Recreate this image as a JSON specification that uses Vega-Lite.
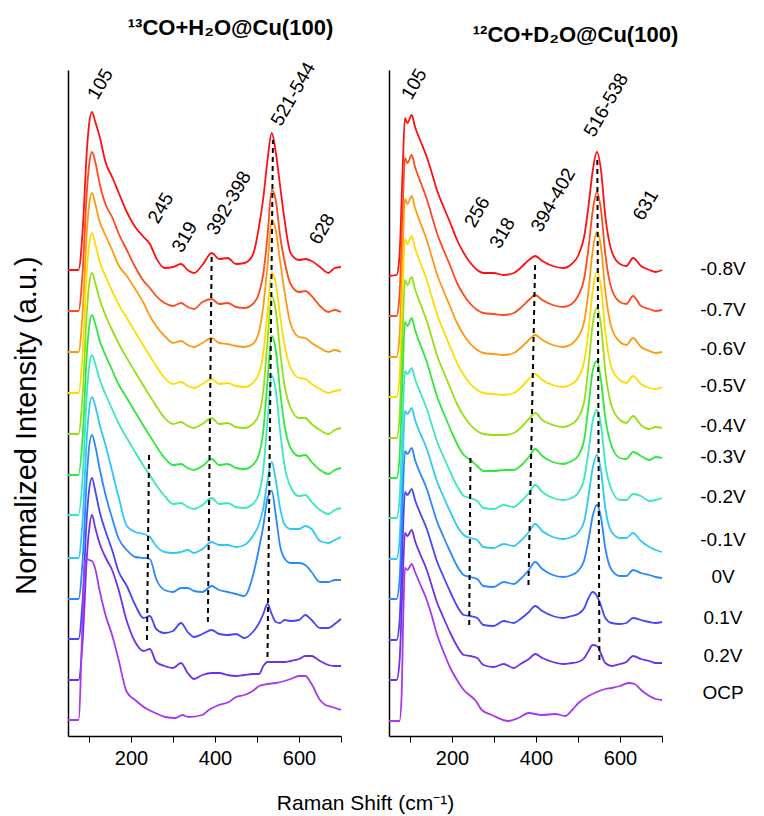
{
"$schema": "https://vega.github.io/schema/vega-lite/v6.json",
"padding": {"left": 12, "top": 17, "right": 5, "bottom": 5},
"bounds": "flush",
"spacing": 48,
"config": {
  "font": "Liberation Sans",
  "view": {"stroke": null},
  "axis": {"grid": false, "domainColor": "#000", "domainWidth": 1.5, "tickColor": "#000", "labelColor": "#000", "titleColor": "#000", "labelFontSize": 20, "titleFontWeight": "normal"},
  "line": {"strokeWidth": 1.8, "interpolate": "monotone"}
},
"datasets": {
"L": [
{"v":"-0.8V","x":50,"y":466},{"v":"-0.8V","x":75,"y":466},{"v":"-0.8V","x":85,"y":506},{"v":"-0.8V","x":95,"y":586},{"v":"-0.8V","x":100,"y":611},{"v":"-0.8V","x":107,"y":624},{"v":"-0.8V","x":115,"y":614},{"v":"-0.8V","x":125,"y":600},{"v":"-0.8V","x":140,"y":573},{"v":"-0.8V","x":155,"y":559},{"v":"-0.8V","x":170,"y":544},{"v":"-0.8V","x":190,"y":524},{"v":"-0.8V","x":210,"y":509},{"v":"-0.8V","x":230,"y":499},{"v":"-0.8V","x":245,"y":492},{"v":"-0.8V","x":260,"y":478},{"v":"-0.8V","x":280,"y":468},{"v":"-0.8V","x":300,"y":469},{"v":"-0.8V","x":319,"y":472},{"v":"-0.8V","x":335,"y":466},{"v":"-0.8V","x":350,"y":463},{"v":"-0.8V","x":370,"y":471},{"v":"-0.8V","x":392,"y":483},{"v":"-0.8V","x":410,"y":477},{"v":"-0.8V","x":430,"y":478},{"v":"-0.8V","x":450,"y":472},{"v":"-0.8V","x":470,"y":473},{"v":"-0.8V","x":490,"y":481},{"v":"-0.8V","x":505,"y":510},{"v":"-0.8V","x":515,"y":538},{"v":"-0.8V","x":525,"y":576},{"v":"-0.8V","x":535,"y":603},{"v":"-0.8V","x":545,"y":583},{"v":"-0.8V","x":555,"y":550},{"v":"-0.8V","x":565,"y":518},{"v":"-0.8V","x":580,"y":483},{"v":"-0.8V","x":600,"y":476},{"v":"-0.8V","x":615,"y":477},{"v":"-0.8V","x":630,"y":475},{"v":"-0.8V","x":650,"y":469},{"v":"-0.8V","x":670,"y":463},{"v":"-0.8V","x":685,"y":468},{"v":"-0.8V","x":700,"y":469},
{"v":"-0.7V","x":50,"y":425},{"v":"-0.7V","x":75,"y":425},{"v":"-0.7V","x":85,"y":465},{"v":"-0.7V","x":95,"y":545},{"v":"-0.7V","x":100,"y":570},{"v":"-0.7V","x":107,"y":584},{"v":"-0.7V","x":115,"y":574},{"v":"-0.7V","x":125,"y":553},{"v":"-0.7V","x":140,"y":531},{"v":"-0.7V","x":155,"y":519},{"v":"-0.7V","x":170,"y":503},{"v":"-0.7V","x":190,"y":486},{"v":"-0.7V","x":210,"y":469},{"v":"-0.7V","x":230,"y":455},{"v":"-0.7V","x":245,"y":448},{"v":"-0.7V","x":260,"y":440},{"v":"-0.7V","x":280,"y":433},{"v":"-0.7V","x":300,"y":430},{"v":"-0.7V","x":319,"y":433},{"v":"-0.7V","x":335,"y":429},{"v":"-0.7V","x":350,"y":427},{"v":"-0.7V","x":370,"y":434},{"v":"-0.7V","x":392,"y":437},{"v":"-0.7V","x":410,"y":432},{"v":"-0.7V","x":430,"y":433},{"v":"-0.7V","x":450,"y":429},{"v":"-0.7V","x":470,"y":428},{"v":"-0.7V","x":490,"y":432},{"v":"-0.7V","x":505,"y":443},{"v":"-0.7V","x":515,"y":462},{"v":"-0.7V","x":525,"y":500},{"v":"-0.7V","x":535,"y":546},{"v":"-0.7V","x":545,"y":535},{"v":"-0.7V","x":555,"y":500},{"v":"-0.7V","x":565,"y":476},{"v":"-0.7V","x":580,"y":452},{"v":"-0.7V","x":600,"y":444},{"v":"-0.7V","x":615,"y":445},{"v":"-0.7V","x":630,"y":440},{"v":"-0.7V","x":650,"y":430},{"v":"-0.7V","x":670,"y":424},{"v":"-0.7V","x":685,"y":426},{"v":"-0.7V","x":700,"y":424},
{"v":"-0.6V","x":50,"y":384},{"v":"-0.6V","x":75,"y":384},{"v":"-0.6V","x":85,"y":424},{"v":"-0.6V","x":95,"y":505},{"v":"-0.6V","x":100,"y":530},{"v":"-0.6V","x":107,"y":543},{"v":"-0.6V","x":115,"y":532},{"v":"-0.6V","x":125,"y":515},{"v":"-0.6V","x":140,"y":500},{"v":"-0.6V","x":155,"y":486},{"v":"-0.6V","x":170,"y":471},{"v":"-0.6V","x":190,"y":460},{"v":"-0.6V","x":210,"y":447},{"v":"-0.6V","x":230,"y":433},{"v":"-0.6V","x":245,"y":420},{"v":"-0.6V","x":260,"y":410},{"v":"-0.6V","x":280,"y":400},{"v":"-0.6V","x":300,"y":393},{"v":"-0.6V","x":319,"y":395},{"v":"-0.6V","x":335,"y":391},{"v":"-0.6V","x":350,"y":389},{"v":"-0.6V","x":370,"y":393},{"v":"-0.6V","x":392,"y":398},{"v":"-0.6V","x":410,"y":393},{"v":"-0.6V","x":430,"y":392},{"v":"-0.6V","x":450,"y":390},{"v":"-0.6V","x":470,"y":389},{"v":"-0.6V","x":490,"y":392},{"v":"-0.6V","x":505,"y":405},{"v":"-0.6V","x":515,"y":430},{"v":"-0.6V","x":525,"y":470},{"v":"-0.6V","x":535,"y":516},{"v":"-0.6V","x":545,"y":505},{"v":"-0.6V","x":555,"y":475},{"v":"-0.6V","x":565,"y":446},{"v":"-0.6V","x":580,"y":412},{"v":"-0.6V","x":600,"y":399},{"v":"-0.6V","x":615,"y":398},{"v":"-0.6V","x":630,"y":393},{"v":"-0.6V","x":650,"y":388},{"v":"-0.6V","x":670,"y":384},{"v":"-0.6V","x":685,"y":386},{"v":"-0.6V","x":700,"y":384},
{"v":"-0.5V","x":50,"y":343},{"v":"-0.5V","x":75,"y":343},{"v":"-0.5V","x":85,"y":383},{"v":"-0.5V","x":95,"y":465},{"v":"-0.5V","x":100,"y":490},{"v":"-0.5V","x":107,"y":503},{"v":"-0.5V","x":115,"y":492},{"v":"-0.5V","x":125,"y":475},{"v":"-0.5V","x":140,"y":459},{"v":"-0.5V","x":155,"y":445},{"v":"-0.5V","x":170,"y":432},{"v":"-0.5V","x":190,"y":418},{"v":"-0.5V","x":210,"y":404},{"v":"-0.5V","x":230,"y":390},{"v":"-0.5V","x":245,"y":380},{"v":"-0.5V","x":260,"y":370},{"v":"-0.5V","x":280,"y":358},{"v":"-0.5V","x":300,"y":352},{"v":"-0.5V","x":319,"y":354},{"v":"-0.5V","x":335,"y":350},{"v":"-0.5V","x":350,"y":348},{"v":"-0.5V","x":370,"y":352},{"v":"-0.5V","x":392,"y":357},{"v":"-0.5V","x":410,"y":352},{"v":"-0.5V","x":430,"y":353},{"v":"-0.5V","x":450,"y":350},{"v":"-0.5V","x":470,"y":349},{"v":"-0.5V","x":490,"y":353},{"v":"-0.5V","x":505,"y":363},{"v":"-0.5V","x":515,"y":383},{"v":"-0.5V","x":525,"y":423},{"v":"-0.5V","x":535,"y":464},{"v":"-0.5V","x":545,"y":452},{"v":"-0.5V","x":555,"y":420},{"v":"-0.5V","x":565,"y":392},{"v":"-0.5V","x":580,"y":368},{"v":"-0.5V","x":600,"y":358},{"v":"-0.5V","x":615,"y":357},{"v":"-0.5V","x":630,"y":352},{"v":"-0.5V","x":650,"y":347},{"v":"-0.5V","x":670,"y":343},{"v":"-0.5V","x":685,"y":345},{"v":"-0.5V","x":700,"y":346},
{"v":"-0.4V","x":50,"y":302},{"v":"-0.4V","x":75,"y":302},{"v":"-0.4V","x":85,"y":342},{"v":"-0.4V","x":95,"y":425},{"v":"-0.4V","x":100,"y":450},{"v":"-0.4V","x":107,"y":463},{"v":"-0.4V","x":115,"y":453},{"v":"-0.4V","x":125,"y":437},{"v":"-0.4V","x":140,"y":420},{"v":"-0.4V","x":155,"y":406},{"v":"-0.4V","x":170,"y":393},{"v":"-0.4V","x":190,"y":378},{"v":"-0.4V","x":210,"y":364},{"v":"-0.4V","x":230,"y":350},{"v":"-0.4V","x":245,"y":340},{"v":"-0.4V","x":260,"y":330},{"v":"-0.4V","x":280,"y":318},{"v":"-0.4V","x":300,"y":312},{"v":"-0.4V","x":319,"y":314},{"v":"-0.4V","x":335,"y":310},{"v":"-0.4V","x":350,"y":308},{"v":"-0.4V","x":370,"y":312},{"v":"-0.4V","x":392,"y":318},{"v":"-0.4V","x":410,"y":312},{"v":"-0.4V","x":430,"y":313},{"v":"-0.4V","x":450,"y":309},{"v":"-0.4V","x":470,"y":308},{"v":"-0.4V","x":490,"y":312},{"v":"-0.4V","x":505,"y":322},{"v":"-0.4V","x":515,"y":345},{"v":"-0.4V","x":525,"y":395},{"v":"-0.4V","x":535,"y":440},{"v":"-0.4V","x":545,"y":425},{"v":"-0.4V","x":555,"y":385},{"v":"-0.4V","x":565,"y":352},{"v":"-0.4V","x":580,"y":328},{"v":"-0.4V","x":600,"y":318},{"v":"-0.4V","x":615,"y":318},{"v":"-0.4V","x":630,"y":312},{"v":"-0.4V","x":650,"y":306},{"v":"-0.4V","x":670,"y":302},{"v":"-0.4V","x":685,"y":306},{"v":"-0.4V","x":700,"y":308},
{"v":"-0.3V","x":50,"y":261},{"v":"-0.3V","x":75,"y":261},{"v":"-0.3V","x":85,"y":300},{"v":"-0.3V","x":95,"y":383},{"v":"-0.3V","x":100,"y":408},{"v":"-0.3V","x":107,"y":421},{"v":"-0.3V","x":115,"y":412},{"v":"-0.3V","x":125,"y":396},{"v":"-0.3V","x":140,"y":380},{"v":"-0.3V","x":155,"y":366},{"v":"-0.3V","x":170,"y":352},{"v":"-0.3V","x":190,"y":338},{"v":"-0.3V","x":210,"y":324},{"v":"-0.3V","x":230,"y":310},{"v":"-0.3V","x":245,"y":300},{"v":"-0.3V","x":260,"y":290},{"v":"-0.3V","x":280,"y":278},{"v":"-0.3V","x":300,"y":271},{"v":"-0.3V","x":319,"y":272},{"v":"-0.3V","x":335,"y":268},{"v":"-0.3V","x":350,"y":266},{"v":"-0.3V","x":370,"y":270},{"v":"-0.3V","x":392,"y":277},{"v":"-0.3V","x":410,"y":271},{"v":"-0.3V","x":430,"y":272},{"v":"-0.3V","x":450,"y":268},{"v":"-0.3V","x":470,"y":267},{"v":"-0.3V","x":490,"y":271},{"v":"-0.3V","x":505,"y":282},{"v":"-0.3V","x":515,"y":305},{"v":"-0.3V","x":525,"y":355},{"v":"-0.3V","x":535,"y":400},{"v":"-0.3V","x":545,"y":385},{"v":"-0.3V","x":555,"y":345},{"v":"-0.3V","x":565,"y":312},{"v":"-0.3V","x":580,"y":288},{"v":"-0.3V","x":600,"y":280},{"v":"-0.3V","x":615,"y":281},{"v":"-0.3V","x":630,"y":274},{"v":"-0.3V","x":650,"y":266},{"v":"-0.3V","x":670,"y":262},{"v":"-0.3V","x":685,"y":266},{"v":"-0.3V","x":700,"y":268},
{"v":"-0.2V","x":50,"y":221},{"v":"-0.2V","x":75,"y":221},{"v":"-0.2V","x":85,"y":260},{"v":"-0.2V","x":95,"y":343},{"v":"-0.2V","x":100,"y":368},{"v":"-0.2V","x":107,"y":381},{"v":"-0.2V","x":115,"y":372},{"v":"-0.2V","x":125,"y":357},{"v":"-0.2V","x":140,"y":341},{"v":"-0.2V","x":155,"y":327},{"v":"-0.2V","x":170,"y":313},{"v":"-0.2V","x":190,"y":298},{"v":"-0.2V","x":210,"y":284},{"v":"-0.2V","x":230,"y":270},{"v":"-0.2V","x":245,"y":261},{"v":"-0.2V","x":260,"y":251},{"v":"-0.2V","x":280,"y":240},{"v":"-0.2V","x":300,"y":232},{"v":"-0.2V","x":319,"y":233},{"v":"-0.2V","x":335,"y":229},{"v":"-0.2V","x":350,"y":227},{"v":"-0.2V","x":370,"y":231},{"v":"-0.2V","x":392,"y":238},{"v":"-0.2V","x":410,"y":232},{"v":"-0.2V","x":430,"y":233},{"v":"-0.2V","x":450,"y":229},{"v":"-0.2V","x":470,"y":228},{"v":"-0.2V","x":490,"y":232},{"v":"-0.2V","x":505,"y":243},{"v":"-0.2V","x":515,"y":266},{"v":"-0.2V","x":525,"y":315},{"v":"-0.2V","x":535,"y":360},{"v":"-0.2V","x":545,"y":345},{"v":"-0.2V","x":555,"y":305},{"v":"-0.2V","x":565,"y":272},{"v":"-0.2V","x":580,"y":249},{"v":"-0.2V","x":600,"y":240},{"v":"-0.2V","x":615,"y":241},{"v":"-0.2V","x":630,"y":234},{"v":"-0.2V","x":650,"y":226},{"v":"-0.2V","x":670,"y":222},{"v":"-0.2V","x":685,"y":226},{"v":"-0.2V","x":700,"y":228},
{"v":"-0.1V","x":50,"y":178},{"v":"-0.1V","x":75,"y":178},{"v":"-0.1V","x":85,"y":218},{"v":"-0.1V","x":95,"y":300},{"v":"-0.1V","x":100,"y":325},{"v":"-0.1V","x":107,"y":339},{"v":"-0.1V","x":115,"y":330},{"v":"-0.1V","x":125,"y":312},{"v":"-0.1V","x":140,"y":290},{"v":"-0.1V","x":155,"y":265},{"v":"-0.1V","x":170,"y":240},{"v":"-0.1V","x":190,"y":210},{"v":"-0.1V","x":210,"y":204},{"v":"-0.1V","x":230,"y":202},{"v":"-0.1V","x":245,"y":199},{"v":"-0.1V","x":260,"y":190},{"v":"-0.1V","x":280,"y":184},{"v":"-0.1V","x":300,"y":183},{"v":"-0.1V","x":319,"y":184},{"v":"-0.1V","x":335,"y":186},{"v":"-0.1V","x":350,"y":183},{"v":"-0.1V","x":370,"y":187},{"v":"-0.1V","x":392,"y":194},{"v":"-0.1V","x":410,"y":191},{"v":"-0.1V","x":430,"y":191},{"v":"-0.1V","x":450,"y":189},{"v":"-0.1V","x":470,"y":191},{"v":"-0.1V","x":490,"y":200},{"v":"-0.1V","x":505,"y":212},{"v":"-0.1V","x":515,"y":228},{"v":"-0.1V","x":525,"y":255},{"v":"-0.1V","x":535,"y":274},{"v":"-0.1V","x":545,"y":255},{"v":"-0.1V","x":555,"y":228},{"v":"-0.1V","x":565,"y":212},{"v":"-0.1V","x":580,"y":207},{"v":"-0.1V","x":600,"y":207},{"v":"-0.1V","x":615,"y":210},{"v":"-0.1V","x":630,"y":207},{"v":"-0.1V","x":650,"y":195},{"v":"-0.1V","x":670,"y":193},{"v":"-0.1V","x":685,"y":196},{"v":"-0.1V","x":700,"y":199},
{"v":"0V","x":50,"y":137},{"v":"0V","x":75,"y":137},{"v":"0V","x":85,"y":177},{"v":"0V","x":95,"y":260},{"v":"0V","x":100,"y":288},{"v":"0V","x":107,"y":301},{"v":"0V","x":115,"y":290},{"v":"0V","x":125,"y":268},{"v":"0V","x":140,"y":240},{"v":"0V","x":155,"y":218},{"v":"0V","x":170,"y":198},{"v":"0V","x":190,"y":186},{"v":"0V","x":210,"y":179},{"v":"0V","x":230,"y":178},{"v":"0V","x":245,"y":177},{"v":"0V","x":260,"y":157},{"v":"0V","x":280,"y":146},{"v":"0V","x":300,"y":144},{"v":"0V","x":319,"y":148},{"v":"0V","x":335,"y":148},{"v":"0V","x":350,"y":145},{"v":"0V","x":370,"y":144},{"v":"0V","x":392,"y":150},{"v":"0V","x":410,"y":146},{"v":"0V","x":430,"y":144},{"v":"0V","x":450,"y":142},{"v":"0V","x":470,"y":140},{"v":"0V","x":490,"y":160},{"v":"0V","x":505,"y":188},{"v":"0V","x":515,"y":210},{"v":"0V","x":525,"y":238},{"v":"0V","x":535,"y":245},{"v":"0V","x":545,"y":220},{"v":"0V","x":555,"y":190},{"v":"0V","x":565,"y":178},{"v":"0V","x":580,"y":173},{"v":"0V","x":600,"y":173},{"v":"0V","x":615,"y":171},{"v":"0V","x":630,"y":164},{"v":"0V","x":650,"y":154},{"v":"0V","x":670,"y":154},{"v":"0V","x":685,"y":156},{"v":"0V","x":700,"y":156},
{"v":"0.1V","x":50,"y":97},{"v":"0.1V","x":75,"y":97},{"v":"0.1V","x":85,"y":137},{"v":"0.1V","x":95,"y":220},{"v":"0.1V","x":100,"y":245},{"v":"0.1V","x":107,"y":258},{"v":"0.1V","x":115,"y":245},{"v":"0.1V","x":125,"y":225},{"v":"0.1V","x":140,"y":204},{"v":"0.1V","x":155,"y":186},{"v":"0.1V","x":170,"y":165},{"v":"0.1V","x":190,"y":150},{"v":"0.1V","x":210,"y":131},{"v":"0.1V","x":230,"y":118},{"v":"0.1V","x":245,"y":120},{"v":"0.1V","x":260,"y":107},{"v":"0.1V","x":280,"y":103},{"v":"0.1V","x":300,"y":105},{"v":"0.1V","x":319,"y":113},{"v":"0.1V","x":335,"y":104},{"v":"0.1V","x":350,"y":99},{"v":"0.1V","x":370,"y":102},{"v":"0.1V","x":392,"y":106},{"v":"0.1V","x":410,"y":102},{"v":"0.1V","x":430,"y":101},{"v":"0.1V","x":450,"y":102},{"v":"0.1V","x":470,"y":98},{"v":"0.1V","x":490,"y":104},{"v":"0.1V","x":505,"y":113},{"v":"0.1V","x":515,"y":122},{"v":"0.1V","x":525,"y":132},{"v":"0.1V","x":535,"y":122},{"v":"0.1V","x":545,"y":114},{"v":"0.1V","x":555,"y":113},{"v":"0.1V","x":565,"y":116},{"v":"0.1V","x":580,"y":115},{"v":"0.1V","x":600,"y":116},{"v":"0.1V","x":615,"y":121},{"v":"0.1V","x":630,"y":116},{"v":"0.1V","x":650,"y":108},{"v":"0.1V","x":670,"y":108},{"v":"0.1V","x":685,"y":112},{"v":"0.1V","x":700,"y":117},
{"v":"0.2V","x":50,"y":56},{"v":"0.2V","x":75,"y":56},{"v":"0.2V","x":85,"y":96},{"v":"0.2V","x":95,"y":180},{"v":"0.2V","x":100,"y":205},{"v":"0.2V","x":107,"y":221},{"v":"0.2V","x":115,"y":208},{"v":"0.2V","x":125,"y":193},{"v":"0.2V","x":140,"y":178},{"v":"0.2V","x":155,"y":166},{"v":"0.2V","x":170,"y":147},{"v":"0.2V","x":190,"y":115},{"v":"0.2V","x":210,"y":94},{"v":"0.2V","x":230,"y":85},{"v":"0.2V","x":245,"y":87},{"v":"0.2V","x":260,"y":74},{"v":"0.2V","x":280,"y":70},{"v":"0.2V","x":300,"y":68},{"v":"0.2V","x":319,"y":73},{"v":"0.2V","x":335,"y":63},{"v":"0.2V","x":350,"y":57},{"v":"0.2V","x":370,"y":61},{"v":"0.2V","x":392,"y":63},{"v":"0.2V","x":410,"y":63},{"v":"0.2V","x":430,"y":61},{"v":"0.2V","x":450,"y":60},{"v":"0.2V","x":470,"y":61},{"v":"0.2V","x":490,"y":62},{"v":"0.2V","x":505,"y":62},{"v":"0.2V","x":515,"y":70},{"v":"0.2V","x":525,"y":74},{"v":"0.2V","x":535,"y":74},{"v":"0.2V","x":545,"y":74},{"v":"0.2V","x":555,"y":74},{"v":"0.2V","x":565,"y":74},{"v":"0.2V","x":580,"y":75},{"v":"0.2V","x":600,"y":77},{"v":"0.2V","x":615,"y":80},{"v":"0.2V","x":630,"y":80},{"v":"0.2V","x":650,"y":75},{"v":"0.2V","x":670,"y":71},{"v":"0.2V","x":685,"y":70},{"v":"0.2V","x":700,"y":70},
{"v":"OCP","x":50,"y":16},{"v":"OCP","x":75,"y":16},{"v":"OCP","x":85,"y":120},{"v":"OCP","x":90,"y":172},{"v":"OCP","x":95,"y":177},{"v":"OCP","x":100,"y":176},{"v":"OCP","x":107,"y":175},{"v":"OCP","x":115,"y":167},{"v":"OCP","x":125,"y":146},{"v":"OCP","x":140,"y":120},{"v":"OCP","x":155,"y":101},{"v":"OCP","x":170,"y":77},{"v":"OCP","x":190,"y":44},{"v":"OCP","x":210,"y":36},{"v":"OCP","x":234,"y":28},{"v":"OCP","x":258,"y":23},{"v":"OCP","x":282,"y":19},{"v":"OCP","x":306,"y":18},{"v":"OCP","x":322,"y":21},{"v":"OCP","x":337,"y":19},{"v":"OCP","x":370,"y":21},{"v":"OCP","x":385,"y":26},{"v":"OCP","x":409,"y":31},{"v":"OCP","x":433,"y":34},{"v":"OCP","x":450,"y":39},{"v":"OCP","x":470,"y":41},{"v":"OCP","x":490,"y":45},{"v":"OCP","x":505,"y":50},{"v":"OCP","x":525,"y":52},{"v":"OCP","x":545,"y":53},{"v":"OCP","x":565,"y":55},{"v":"OCP","x":580,"y":57},{"v":"OCP","x":600,"y":60},{"v":"OCP","x":615,"y":60},{"v":"OCP","x":630,"y":52},{"v":"OCP","x":650,"y":36},{"v":"OCP","x":663,"y":31},{"v":"OCP","x":679,"y":29},{"v":"OCP","x":700,"y":26}
],
"R": [
{"v":"-0.8V","x":50,"y":460},{"v":"-0.8V","x":68,"y":461},{"v":"-0.8V","x":75,"y":480},{"v":"-0.8V","x":82,"y":560},{"v":"-0.8V","x":88,"y":618},{"v":"-0.8V","x":94,"y":613},{"v":"-0.8V","x":104,"y":621},{"v":"-0.8V","x":112,"y":609},{"v":"-0.8V","x":124,"y":596},{"v":"-0.8V","x":140,"y":579},{"v":"-0.8V","x":152,"y":563},{"v":"-0.8V","x":164,"y":546},{"v":"-0.8V","x":180,"y":529},{"v":"-0.8V","x":196,"y":513},{"v":"-0.8V","x":212,"y":496},{"v":"-0.8V","x":228,"y":483},{"v":"-0.8V","x":244,"y":473},{"v":"-0.8V","x":260,"y":466},{"v":"-0.8V","x":275,"y":463},{"v":"-0.8V","x":299,"y":463},{"v":"-0.8V","x":323,"y":461},{"v":"-0.8V","x":347,"y":463},{"v":"-0.8V","x":363,"y":468},{"v":"-0.8V","x":383,"y":476},{"v":"-0.8V","x":398,"y":480},{"v":"-0.8V","x":415,"y":475},{"v":"-0.8V","x":440,"y":470},{"v":"-0.8V","x":465,"y":468},{"v":"-0.8V","x":485,"y":472},{"v":"-0.8V","x":500,"y":480},{"v":"-0.8V","x":515,"y":500},{"v":"-0.8V","x":525,"y":530},{"v":"-0.8V","x":535,"y":565},{"v":"-0.8V","x":545,"y":584},{"v":"-0.8V","x":555,"y":565},{"v":"-0.8V","x":565,"y":520},{"v":"-0.8V","x":580,"y":485},{"v":"-0.8V","x":600,"y":472},{"v":"-0.8V","x":615,"y":470},{"v":"-0.8V","x":631,"y":478},{"v":"-0.8V","x":650,"y":470},{"v":"-0.8V","x":670,"y":466},{"v":"-0.8V","x":685,"y":464},{"v":"-0.8V","x":700,"y":466},
{"v":"-0.7V","x":50,"y":420},{"v":"-0.7V","x":68,"y":420},{"v":"-0.7V","x":75,"y":440},{"v":"-0.7V","x":82,"y":520},{"v":"-0.7V","x":88,"y":578},{"v":"-0.7V","x":94,"y":573},{"v":"-0.7V","x":104,"y":581},{"v":"-0.7V","x":112,"y":569},{"v":"-0.7V","x":124,"y":555},{"v":"-0.7V","x":140,"y":537},{"v":"-0.7V","x":152,"y":520},{"v":"-0.7V","x":164,"y":503},{"v":"-0.7V","x":180,"y":486},{"v":"-0.7V","x":196,"y":470},{"v":"-0.7V","x":212,"y":453},{"v":"-0.7V","x":228,"y":441},{"v":"-0.7V","x":244,"y":432},{"v":"-0.7V","x":260,"y":426},{"v":"-0.7V","x":275,"y":423},{"v":"-0.7V","x":299,"y":422},{"v":"-0.7V","x":323,"y":421},{"v":"-0.7V","x":347,"y":423},{"v":"-0.7V","x":363,"y":428},{"v":"-0.7V","x":383,"y":436},{"v":"-0.7V","x":398,"y":441},{"v":"-0.7V","x":415,"y":436},{"v":"-0.7V","x":440,"y":431},{"v":"-0.7V","x":465,"y":429},{"v":"-0.7V","x":485,"y":432},{"v":"-0.7V","x":500,"y":440},{"v":"-0.7V","x":515,"y":458},{"v":"-0.7V","x":525,"y":488},{"v":"-0.7V","x":535,"y":525},{"v":"-0.7V","x":545,"y":544},{"v":"-0.7V","x":555,"y":525},{"v":"-0.7V","x":565,"y":482},{"v":"-0.7V","x":580,"y":447},{"v":"-0.7V","x":600,"y":434},{"v":"-0.7V","x":615,"y":432},{"v":"-0.7V","x":631,"y":440},{"v":"-0.7V","x":650,"y":430},{"v":"-0.7V","x":670,"y":427},{"v":"-0.7V","x":685,"y":425},{"v":"-0.7V","x":700,"y":426},
{"v":"-0.6V","x":50,"y":379},{"v":"-0.6V","x":68,"y":379},{"v":"-0.6V","x":75,"y":399},{"v":"-0.6V","x":82,"y":479},{"v":"-0.6V","x":88,"y":537},{"v":"-0.6V","x":94,"y":532},{"v":"-0.6V","x":104,"y":540},{"v":"-0.6V","x":112,"y":528},{"v":"-0.6V","x":124,"y":514},{"v":"-0.6V","x":140,"y":496},{"v":"-0.6V","x":152,"y":479},{"v":"-0.6V","x":164,"y":462},{"v":"-0.6V","x":180,"y":445},{"v":"-0.6V","x":196,"y":429},{"v":"-0.6V","x":212,"y":413},{"v":"-0.6V","x":228,"y":401},{"v":"-0.6V","x":244,"y":392},{"v":"-0.6V","x":260,"y":386},{"v":"-0.6V","x":275,"y":383},{"v":"-0.6V","x":299,"y":382},{"v":"-0.6V","x":323,"y":381},{"v":"-0.6V","x":347,"y":383},{"v":"-0.6V","x":363,"y":388},{"v":"-0.6V","x":383,"y":396},{"v":"-0.6V","x":398,"y":401},{"v":"-0.6V","x":415,"y":396},{"v":"-0.6V","x":440,"y":391},{"v":"-0.6V","x":465,"y":389},{"v":"-0.6V","x":485,"y":392},{"v":"-0.6V","x":500,"y":399},{"v":"-0.6V","x":515,"y":415},{"v":"-0.6V","x":525,"y":445},{"v":"-0.6V","x":535,"y":485},{"v":"-0.6V","x":545,"y":504},{"v":"-0.6V","x":555,"y":488},{"v":"-0.6V","x":565,"y":445},{"v":"-0.6V","x":580,"y":408},{"v":"-0.6V","x":600,"y":394},{"v":"-0.6V","x":615,"y":391},{"v":"-0.6V","x":631,"y":398},{"v":"-0.6V","x":650,"y":389},{"v":"-0.6V","x":670,"y":385},{"v":"-0.6V","x":685,"y":383},{"v":"-0.6V","x":700,"y":384},
{"v":"-0.5V","x":50,"y":339},{"v":"-0.5V","x":68,"y":339},{"v":"-0.5V","x":75,"y":359},{"v":"-0.5V","x":82,"y":439},{"v":"-0.5V","x":88,"y":497},{"v":"-0.5V","x":94,"y":492},{"v":"-0.5V","x":104,"y":500},{"v":"-0.5V","x":112,"y":488},{"v":"-0.5V","x":124,"y":474},{"v":"-0.5V","x":140,"y":456},{"v":"-0.5V","x":152,"y":439},{"v":"-0.5V","x":164,"y":422},{"v":"-0.5V","x":180,"y":405},{"v":"-0.5V","x":196,"y":389},{"v":"-0.5V","x":212,"y":373},{"v":"-0.5V","x":228,"y":361},{"v":"-0.5V","x":244,"y":352},{"v":"-0.5V","x":260,"y":346},{"v":"-0.5V","x":275,"y":343},{"v":"-0.5V","x":299,"y":342},{"v":"-0.5V","x":323,"y":341},{"v":"-0.5V","x":347,"y":343},{"v":"-0.5V","x":363,"y":348},{"v":"-0.5V","x":383,"y":357},{"v":"-0.5V","x":398,"y":362},{"v":"-0.5V","x":415,"y":356},{"v":"-0.5V","x":440,"y":351},{"v":"-0.5V","x":465,"y":349},{"v":"-0.5V","x":485,"y":352},{"v":"-0.5V","x":500,"y":358},{"v":"-0.5V","x":515,"y":375},{"v":"-0.5V","x":525,"y":405},{"v":"-0.5V","x":535,"y":445},{"v":"-0.5V","x":545,"y":464},{"v":"-0.5V","x":555,"y":448},{"v":"-0.5V","x":565,"y":405},{"v":"-0.5V","x":580,"y":368},{"v":"-0.5V","x":600,"y":356},{"v":"-0.5V","x":615,"y":353},{"v":"-0.5V","x":631,"y":360},{"v":"-0.5V","x":650,"y":352},{"v":"-0.5V","x":670,"y":348},{"v":"-0.5V","x":685,"y":347},{"v":"-0.5V","x":700,"y":349},
{"v":"-0.4V","x":50,"y":298},{"v":"-0.4V","x":68,"y":298},{"v":"-0.4V","x":75,"y":318},{"v":"-0.4V","x":82,"y":398},{"v":"-0.4V","x":88,"y":456},{"v":"-0.4V","x":94,"y":451},{"v":"-0.4V","x":104,"y":459},{"v":"-0.4V","x":112,"y":447},{"v":"-0.4V","x":124,"y":433},{"v":"-0.4V","x":140,"y":415},{"v":"-0.4V","x":152,"y":398},{"v":"-0.4V","x":164,"y":381},{"v":"-0.4V","x":180,"y":364},{"v":"-0.4V","x":196,"y":348},{"v":"-0.4V","x":212,"y":332},{"v":"-0.4V","x":228,"y":320},{"v":"-0.4V","x":244,"y":311},{"v":"-0.4V","x":260,"y":305},{"v":"-0.4V","x":275,"y":302},{"v":"-0.4V","x":299,"y":301},{"v":"-0.4V","x":323,"y":301},{"v":"-0.4V","x":347,"y":303},{"v":"-0.4V","x":363,"y":308},{"v":"-0.4V","x":383,"y":317},{"v":"-0.4V","x":398,"y":323},{"v":"-0.4V","x":415,"y":316},{"v":"-0.4V","x":440,"y":311},{"v":"-0.4V","x":465,"y":309},{"v":"-0.4V","x":485,"y":312},{"v":"-0.4V","x":500,"y":318},{"v":"-0.4V","x":515,"y":335},{"v":"-0.4V","x":525,"y":370},{"v":"-0.4V","x":535,"y":412},{"v":"-0.4V","x":545,"y":428},{"v":"-0.4V","x":555,"y":410},{"v":"-0.4V","x":565,"y":365},{"v":"-0.4V","x":580,"y":330},{"v":"-0.4V","x":600,"y":316},{"v":"-0.4V","x":615,"y":313},{"v":"-0.4V","x":631,"y":320},{"v":"-0.4V","x":650,"y":311},{"v":"-0.4V","x":670,"y":307},{"v":"-0.4V","x":685,"y":309},{"v":"-0.4V","x":700,"y":308},
{"v":"-0.3V","x":50,"y":258},{"v":"-0.3V","x":68,"y":258},{"v":"-0.3V","x":75,"y":278},{"v":"-0.3V","x":82,"y":356},{"v":"-0.3V","x":88,"y":414},{"v":"-0.3V","x":94,"y":410},{"v":"-0.3V","x":104,"y":418},{"v":"-0.3V","x":112,"y":406},{"v":"-0.3V","x":124,"y":392},{"v":"-0.3V","x":140,"y":374},{"v":"-0.3V","x":152,"y":357},{"v":"-0.3V","x":164,"y":340},{"v":"-0.3V","x":180,"y":323},{"v":"-0.3V","x":196,"y":307},{"v":"-0.3V","x":212,"y":292},{"v":"-0.3V","x":228,"y":281},{"v":"-0.3V","x":244,"y":276},{"v":"-0.3V","x":260,"y":270},{"v":"-0.3V","x":275,"y":265},{"v":"-0.3V","x":299,"y":265},{"v":"-0.3V","x":323,"y":266},{"v":"-0.3V","x":347,"y":266},{"v":"-0.3V","x":363,"y":270},{"v":"-0.3V","x":383,"y":279},{"v":"-0.3V","x":398,"y":287},{"v":"-0.3V","x":415,"y":280},{"v":"-0.3V","x":440,"y":274},{"v":"-0.3V","x":465,"y":272},{"v":"-0.3V","x":485,"y":275},{"v":"-0.3V","x":500,"y":280},{"v":"-0.3V","x":515,"y":297},{"v":"-0.3V","x":525,"y":330},{"v":"-0.3V","x":535,"y":365},{"v":"-0.3V","x":545,"y":375},{"v":"-0.3V","x":555,"y":355},{"v":"-0.3V","x":565,"y":318},{"v":"-0.3V","x":580,"y":290},{"v":"-0.3V","x":600,"y":278},{"v":"-0.3V","x":615,"y":277},{"v":"-0.3V","x":631,"y":284},{"v":"-0.3V","x":650,"y":280},{"v":"-0.3V","x":670,"y":276},{"v":"-0.3V","x":685,"y":279},{"v":"-0.3V","x":700,"y":278},
{"v":"-0.2V","x":50,"y":218},{"v":"-0.2V","x":68,"y":218},{"v":"-0.2V","x":75,"y":236},{"v":"-0.2V","x":82,"y":310},{"v":"-0.2V","x":88,"y":365},{"v":"-0.2V","x":94,"y":362},{"v":"-0.2V","x":104,"y":368},{"v":"-0.2V","x":112,"y":357},{"v":"-0.2V","x":124,"y":344},{"v":"-0.2V","x":140,"y":327},{"v":"-0.2V","x":152,"y":311},{"v":"-0.2V","x":164,"y":295},{"v":"-0.2V","x":180,"y":279},{"v":"-0.2V","x":196,"y":264},{"v":"-0.2V","x":212,"y":250},{"v":"-0.2V","x":228,"y":240},{"v":"-0.2V","x":244,"y":238},{"v":"-0.2V","x":260,"y":235},{"v":"-0.2V","x":275,"y":228},{"v":"-0.2V","x":299,"y":227},{"v":"-0.2V","x":323,"y":231},{"v":"-0.2V","x":347,"y":229},{"v":"-0.2V","x":363,"y":234},{"v":"-0.2V","x":383,"y":243},{"v":"-0.2V","x":398,"y":251},{"v":"-0.2V","x":415,"y":244},{"v":"-0.2V","x":440,"y":238},{"v":"-0.2V","x":465,"y":236},{"v":"-0.2V","x":485,"y":238},{"v":"-0.2V","x":500,"y":243},{"v":"-0.2V","x":515,"y":258},{"v":"-0.2V","x":525,"y":285},{"v":"-0.2V","x":535,"y":315},{"v":"-0.2V","x":545,"y":326},{"v":"-0.2V","x":555,"y":310},{"v":"-0.2V","x":565,"y":272},{"v":"-0.2V","x":580,"y":246},{"v":"-0.2V","x":600,"y":236},{"v":"-0.2V","x":615,"y":236},{"v":"-0.2V","x":631,"y":242},{"v":"-0.2V","x":650,"y":240},{"v":"-0.2V","x":670,"y":235},{"v":"-0.2V","x":685,"y":236},{"v":"-0.2V","x":700,"y":238},
{"v":"-0.1V","x":50,"y":177},{"v":"-0.1V","x":68,"y":177},{"v":"-0.1V","x":75,"y":195},{"v":"-0.1V","x":82,"y":270},{"v":"-0.1V","x":88,"y":325},{"v":"-0.1V","x":94,"y":322},{"v":"-0.1V","x":104,"y":328},{"v":"-0.1V","x":112,"y":316},{"v":"-0.1V","x":124,"y":303},{"v":"-0.1V","x":140,"y":287},{"v":"-0.1V","x":152,"y":271},{"v":"-0.1V","x":164,"y":255},{"v":"-0.1V","x":180,"y":239},{"v":"-0.1V","x":196,"y":224},{"v":"-0.1V","x":212,"y":210},{"v":"-0.1V","x":228,"y":201},{"v":"-0.1V","x":244,"y":198},{"v":"-0.1V","x":260,"y":196},{"v":"-0.1V","x":275,"y":189},{"v":"-0.1V","x":299,"y":188},{"v":"-0.1V","x":323,"y":192},{"v":"-0.1V","x":347,"y":190},{"v":"-0.1V","x":363,"y":195},{"v":"-0.1V","x":383,"y":204},{"v":"-0.1V","x":398,"y":212},{"v":"-0.1V","x":415,"y":205},{"v":"-0.1V","x":440,"y":199},{"v":"-0.1V","x":465,"y":197},{"v":"-0.1V","x":485,"y":199},{"v":"-0.1V","x":500,"y":203},{"v":"-0.1V","x":515,"y":215},{"v":"-0.1V","x":525,"y":240},{"v":"-0.1V","x":535,"y":268},{"v":"-0.1V","x":545,"y":281},{"v":"-0.1V","x":555,"y":265},{"v":"-0.1V","x":565,"y":228},{"v":"-0.1V","x":580,"y":204},{"v":"-0.1V","x":600,"y":198},{"v":"-0.1V","x":615,"y":198},{"v":"-0.1V","x":631,"y":203},{"v":"-0.1V","x":650,"y":195},{"v":"-0.1V","x":670,"y":189},{"v":"-0.1V","x":685,"y":186},{"v":"-0.1V","x":700,"y":184},
{"v":"0V","x":50,"y":137},{"v":"0V","x":68,"y":137},{"v":"0V","x":75,"y":155},{"v":"0V","x":82,"y":230},{"v":"0V","x":88,"y":285},{"v":"0V","x":94,"y":282},{"v":"0V","x":104,"y":288},{"v":"0V","x":112,"y":276},{"v":"0V","x":124,"y":263},{"v":"0V","x":140,"y":247},{"v":"0V","x":152,"y":231},{"v":"0V","x":164,"y":215},{"v":"0V","x":180,"y":199},{"v":"0V","x":196,"y":184},{"v":"0V","x":212,"y":170},{"v":"0V","x":228,"y":161},{"v":"0V","x":244,"y":159},{"v":"0V","x":260,"y":157},{"v":"0V","x":275,"y":150},{"v":"0V","x":299,"y":149},{"v":"0V","x":323,"y":154},{"v":"0V","x":347,"y":152},{"v":"0V","x":363,"y":157},{"v":"0V","x":383,"y":166},{"v":"0V","x":398,"y":174},{"v":"0V","x":415,"y":167},{"v":"0V","x":440,"y":161},{"v":"0V","x":465,"y":159},{"v":"0V","x":485,"y":161},{"v":"0V","x":500,"y":165},{"v":"0V","x":515,"y":176},{"v":"0V","x":525,"y":196},{"v":"0V","x":535,"y":220},{"v":"0V","x":545,"y":231},{"v":"0V","x":555,"y":218},{"v":"0V","x":565,"y":188},{"v":"0V","x":580,"y":166},{"v":"0V","x":600,"y":160},{"v":"0V","x":615,"y":160},{"v":"0V","x":631,"y":166},{"v":"0V","x":650,"y":163},{"v":"0V","x":670,"y":161},{"v":"0V","x":685,"y":159},{"v":"0V","x":700,"y":158},
{"v":"0.1V","x":50,"y":96},{"v":"0.1V","x":68,"y":96},{"v":"0.1V","x":75,"y":114},{"v":"0.1V","x":82,"y":189},{"v":"0.1V","x":88,"y":244},{"v":"0.1V","x":94,"y":241},{"v":"0.1V","x":104,"y":247},{"v":"0.1V","x":112,"y":236},{"v":"0.1V","x":124,"y":223},{"v":"0.1V","x":140,"y":207},{"v":"0.1V","x":152,"y":191},{"v":"0.1V","x":164,"y":175},{"v":"0.1V","x":180,"y":159},{"v":"0.1V","x":196,"y":144},{"v":"0.1V","x":212,"y":130},{"v":"0.1V","x":228,"y":121},{"v":"0.1V","x":244,"y":120},{"v":"0.1V","x":260,"y":118},{"v":"0.1V","x":275,"y":111},{"v":"0.1V","x":299,"y":110},{"v":"0.1V","x":323,"y":115},{"v":"0.1V","x":347,"y":113},{"v":"0.1V","x":363,"y":117},{"v":"0.1V","x":383,"y":124},{"v":"0.1V","x":398,"y":130},{"v":"0.1V","x":415,"y":125},{"v":"0.1V","x":440,"y":120},{"v":"0.1V","x":465,"y":118},{"v":"0.1V","x":485,"y":120},{"v":"0.1V","x":500,"y":122},{"v":"0.1V","x":515,"y":128},{"v":"0.1V","x":525,"y":138},{"v":"0.1V","x":535,"y":144},{"v":"0.1V","x":545,"y":140},{"v":"0.1V","x":555,"y":130},{"v":"0.1V","x":565,"y":118},{"v":"0.1V","x":580,"y":113},{"v":"0.1V","x":600,"y":112},{"v":"0.1V","x":615,"y":113},{"v":"0.1V","x":631,"y":118},{"v":"0.1V","x":650,"y":116},{"v":"0.1V","x":670,"y":114},{"v":"0.1V","x":685,"y":113},{"v":"0.1V","x":700,"y":114},
{"v":"0.2V","x":50,"y":56},{"v":"0.2V","x":68,"y":56},{"v":"0.2V","x":75,"y":74},{"v":"0.2V","x":82,"y":148},{"v":"0.2V","x":88,"y":203},{"v":"0.2V","x":94,"y":200},{"v":"0.2V","x":104,"y":206},{"v":"0.2V","x":112,"y":195},{"v":"0.2V","x":124,"y":182},{"v":"0.2V","x":140,"y":166},{"v":"0.2V","x":152,"y":150},{"v":"0.2V","x":164,"y":134},{"v":"0.2V","x":180,"y":118},{"v":"0.2V","x":196,"y":103},{"v":"0.2V","x":212,"y":90},{"v":"0.2V","x":228,"y":81},{"v":"0.2V","x":244,"y":80},{"v":"0.2V","x":260,"y":78},{"v":"0.2V","x":275,"y":71},{"v":"0.2V","x":299,"y":69},{"v":"0.2V","x":323,"y":72},{"v":"0.2V","x":347,"y":68},{"v":"0.2V","x":363,"y":72},{"v":"0.2V","x":383,"y":77},{"v":"0.2V","x":398,"y":82},{"v":"0.2V","x":415,"y":78},{"v":"0.2V","x":440,"y":74},{"v":"0.2V","x":465,"y":72},{"v":"0.2V","x":485,"y":73},{"v":"0.2V","x":500,"y":74},{"v":"0.2V","x":515,"y":78},{"v":"0.2V","x":525,"y":85},{"v":"0.2V","x":535,"y":91},{"v":"0.2V","x":545,"y":90},{"v":"0.2V","x":555,"y":82},{"v":"0.2V","x":565,"y":73},{"v":"0.2V","x":580,"y":70},{"v":"0.2V","x":600,"y":72},{"v":"0.2V","x":615,"y":74},{"v":"0.2V","x":631,"y":80},{"v":"0.2V","x":650,"y":77},{"v":"0.2V","x":670,"y":75},{"v":"0.2V","x":685,"y":73},{"v":"0.2V","x":700,"y":73},
{"v":"OCP","x":50,"y":15},{"v":"OCP","x":68,"y":15},{"v":"OCP","x":75,"y":15},{"v":"OCP","x":80,"y":40},{"v":"OCP","x":84,"y":120},{"v":"OCP","x":88,"y":168},{"v":"OCP","x":94,"y":166},{"v":"OCP","x":104,"y":172},{"v":"OCP","x":112,"y":164},{"v":"OCP","x":124,"y":152},{"v":"OCP","x":140,"y":136},{"v":"OCP","x":152,"y":120},{"v":"OCP","x":164,"y":102},{"v":"OCP","x":180,"y":84},{"v":"OCP","x":196,"y":68},{"v":"OCP","x":212,"y":56},{"v":"OCP","x":228,"y":46},{"v":"OCP","x":244,"y":40},{"v":"OCP","x":255,"y":36},{"v":"OCP","x":271,"y":26},{"v":"OCP","x":295,"y":21},{"v":"OCP","x":334,"y":15},{"v":"OCP","x":358,"y":18},{"v":"OCP","x":382,"y":23},{"v":"OCP","x":414,"y":21},{"v":"OCP","x":446,"y":22},{"v":"OCP","x":470,"y":20},{"v":"OCP","x":486,"y":26},{"v":"OCP","x":501,"y":33},{"v":"OCP","x":525,"y":40},{"v":"OCP","x":545,"y":44},{"v":"OCP","x":565,"y":47},{"v":"OCP","x":580,"y":48},{"v":"OCP","x":600,"y":50},{"v":"OCP","x":620,"y":53},{"v":"OCP","x":635,"y":52},{"v":"OCP","x":650,"y":46},{"v":"OCP","x":670,"y":40},{"v":"OCP","x":685,"y":37},{"v":"OCP","x":700,"y":36}
],
"dL": [
{"g":"a","x":243,"y":284},{"g":"a","x":238,"y":96},
{"g":"b","x":392,"y":479},{"g":"b","x":383,"y":114},
{"g":"c","x":538,"y":596},{"g":"c","x":525,"y":79}
],
"dR": [
{"g":"a","x":244,"y":281},{"g":"a","x":241,"y":111},
{"g":"b","x":398,"y":474},{"g":"b","x":382,"y":151},
{"g":"c","x":546,"y":576},{"g":"c","x":551,"y":76}
],
"aL": [
{"t":"105","x":127,"y":652},{"t":"245","x":271,"y":528},{"t":"319","x":328,"y":499},{"t":"392-398","x":433,"y":533},{"t":"521-544","x":586,"y":642},{"t":"628","x":655,"y":507}
],
"aR": [
{"t":"105","x":110,"y":652},{"t":"256","x":260,"y":524},{"t":"318","x":320,"y":503},{"t":"394-402","x":441,"y":536},{"t":"516-538","x":567,"y":631},{"t":"631","x":661,"y":531}
],
"lab": [
{"v":"-0.8V","y":467},{"v":"-0.7V","y":426},{"v":"-0.6V","y":387},{"v":"-0.5V","y":350},{"v":"-0.4V","y":310},{"v":"-0.3V","y":279},{"v":"-0.2V","y":239},{"v":"-0.1V","y":196},{"v":"0V","y":159},{"v":"0.1V","y":118},{"v":"0.2V","y":80},{"v":"OCP","y":43}
]
},
"hconcat": [
{
  "width": 273, "height": 666,
  "title": {"text": "¹³CO+H₂O@Cu(100)", "fontSize": 22, "fontWeight": "bold", "color": "#000", "dx": 26, "offset": 2, "baseline": "alphabetic"},
  "layer": [
    {"data": {"name": "L"}, "mark": {"type": "line"},
     "encoding": {
       "x": {"field": "x", "type": "quantitative", "scale": {"domain": [50, 700], "nice": false, "zero": false},
             "axis": {"values": [100,200,300,400,500,600,700], "labelExpr": "datum.value % 200 == 0 ? datum.label : ''", "tickSize": 6, "labelPadding": 6, "title": "Raman Shift (cm⁻¹)", "titleFontSize": 21, "titleX": 297, "titleY": 73, "titleBaseline": "alphabetic", "titleAlign": "center"}},
       "y": {"field": "y", "type": "quantitative", "scale": {"domain": [0, 666], "nice": false},
             "axis": {"ticks": false, "labels": false, "title": "Normalized Intensity (a.u.)", "titleFontSize": 29, "titleX": -42, "titleY": 355, "titleBaseline": "middle", "titleAlign": "center", "titleAngle": -90}},
       "color": {"field": "v", "type": "nominal", "legend": null,
                 "scale": {"domain": ["-0.8V","-0.7V","-0.6V","-0.5V","-0.4V","-0.3V","-0.2V","-0.1V","0V","0.1V","0.2V","OCP"],
                           "range": ["#ff1010","#ff4a1c","#ff9a10","#ffdc00","#96e010","#30e83c","#38e8c0","#30c8f8","#2a88ff","#4646f8","#7030e8","#a838f0"]}}
     }},
    {"data": {"name": "dL"}, "mark": {"type": "line", "color": "#000", "strokeDash": [5, 4], "strokeWidth": 2, "interpolate": "linear"},
     "encoding": {"x": {"field": "x", "type": "quantitative"}, "y": {"field": "y", "type": "quantitative"}, "detail": {"field": "g"}}},
    {"data": {"name": "aL"}, "mark": {"type": "text", "angle": -60, "fontSize": 19, "align": "center", "baseline": "middle", "color": "#000"},
     "encoding": {"x": {"field": "x", "type": "quantitative"}, "y": {"field": "y", "type": "quantitative"}, "text": {"field": "t"}}}
  ]
},
{
  "width": 273, "height": 666,
  "title": {"text": "¹²CO+D₂O@Cu(100)", "fontSize": 22, "fontWeight": "bold", "color": "#000", "dx": 50, "offset": 2, "baseline": "alphabetic"},
  "layer": [
    {"data": {"name": "R"}, "mark": {"type": "line"},
     "encoding": {
       "x": {"field": "x", "type": "quantitative", "scale": {"domain": [50, 700], "nice": false, "zero": false},
             "axis": {"values": [100,200,300,400,500,600,700], "labelExpr": "datum.value % 200 == 0 ? datum.label : ''", "tickSize": 6, "labelPadding": 6, "title": null}},
       "y": {"field": "y", "type": "quantitative", "scale": {"domain": [0, 666], "nice": false},
             "axis": {"ticks": false, "labels": false, "title": null}},
       "color": {"field": "v", "type": "nominal", "legend": null,
                 "scale": {"domain": ["-0.8V","-0.7V","-0.6V","-0.5V","-0.4V","-0.3V","-0.2V","-0.1V","0V","0.1V","0.2V","OCP"],
                           "range": ["#ff1010","#ff4a1c","#ff9a10","#ffdc00","#96e010","#30e83c","#38e8c0","#30c8f8","#2a88ff","#4646f8","#7030e8","#a838f0"]}}
     }},
    {"data": {"name": "dR"}, "mark": {"type": "line", "color": "#000", "strokeDash": [5, 4], "strokeWidth": 2, "interpolate": "linear"},
     "encoding": {"x": {"field": "x", "type": "quantitative"}, "y": {"field": "y", "type": "quantitative"}, "detail": {"field": "g"}}},
    {"data": {"name": "aR"}, "mark": {"type": "text", "angle": -60, "fontSize": 19, "align": "center", "baseline": "middle", "color": "#000"},
     "encoding": {"x": {"field": "x", "type": "quantitative"}, "y": {"field": "y", "type": "quantitative"}, "text": {"field": "t"}}},
    {"data": {"name": "lab"}, "mark": {"type": "text", "fontSize": 19, "align": "center", "baseline": "middle", "dx": 61, "color": "#000"},
     "encoding": {"x": {"datum": 700, "type": "quantitative"}, "y": {"field": "y", "type": "quantitative"}, "text": {"field": "v"}}}
  ]
}
]
}
